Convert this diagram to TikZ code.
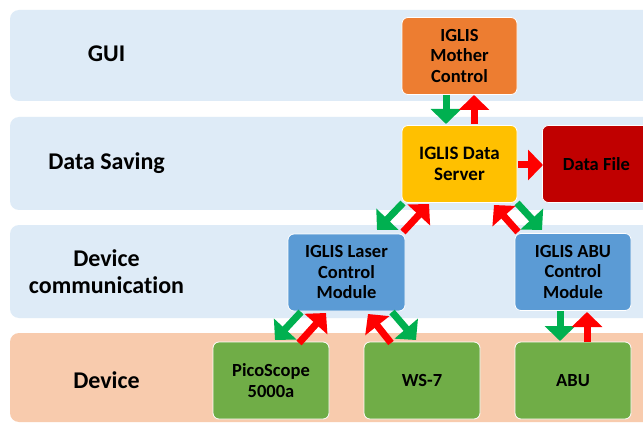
\documentclass[tikz,border=0pt]{standalone}
\usepackage{fontspec}
\setmainfont{Carlito}[Ligatures={NoCommon}]
\usetikzlibrary{arrows.meta}
\definecolor{bandblue}{HTML}{DEEBF7}
\definecolor{bandpeach}{HTML}{F8CBAD}
\definecolor{cOrange}{HTML}{ED7D31}
\definecolor{cYellow}{HTML}{FFC000}
\definecolor{cDarkRed}{HTML}{C00000}
\definecolor{cBlue}{HTML}{5B9BD5}
\definecolor{cGreen}{HTML}{70AD47}
\definecolor{aGreen}{HTML}{00B050}
\definecolor{aRed}{HTML}{FF0000}
\begin{document}
\begin{tikzpicture}[x=1pt,y=-1pt,
  band/.style={rounded corners=9pt},
  lanelabel/.style={font=\bfseries\fontsize{24}{27}\selectfont, align=center, text=black, inner sep=0pt},
  box/.style={draw=white, line width=0.8pt, rounded corners=6pt, minimum width=115pt, minimum height=77pt, align=center, font=\bfseries\fontsize{18.5}{20.5}\selectfont, inner sep=2pt},
  garrow/.style={draw=aGreen, line width=7pt, -{Triangle[width=30pt,length=15pt]}},
  rarrow/.style={draw=aRed, line width=7pt, -{Triangle[width=30pt,length=15pt]}}
]
\useasboundingbox (0,0) rectangle (643,425);
\clip (0,0) rectangle (643,425);
\fill[white] (0,0) rectangle (643,425);
% bands
\fill[band, bandblue] (10,10) rectangle (680,101);
\fill[band, bandblue] (10,117) rectangle (680,210);
\fill[band, bandblue] (10,225) rectangle (680,318);
\fill[band, bandpeach] (10,333) rectangle (680,422);
% lane labels
\node[lanelabel] (lgui) at (106.5,54) {GUI};
\node[lanelabel] (lds) at (106.5,163) {Data Saving};
\node[lanelabel] (ldc) at (106.5,271.5) {Device\\communication};
\node[lanelabel] (ldev) at (106.5,380) {Device};
% boxes
\node[box, fill=cOrange] (mother) at (459.5,56) {IGLIS\\Mother\\Control};
\node[box, fill=cYellow, font=\bfseries\fontsize{19}{21}\selectfont] (server) at (459.5,164) {IGLIS Data\\Server};
\node[box, fill=cDarkRed, minimum width=108pt, anchor=west] (file) at (542,164) {Data File};
\node[box, fill=cBlue, minimum width=117pt] (laser) at (346.5,272.5) {IGLIS Laser\\Control\\Module};
\node[box, fill=cBlue, minimum width=116pt] (abuc) at (573,272) {IGLIS ABU\\Control\\Module};
\node[box, fill=cGreen, minimum width=116pt] (pico) at (271,380.5) {PicoScope\\5000a};
\node[box, fill=cGreen, minimum width=116pt] (ws) at (422,380.5) {WS-7};
\node[box, fill=cGreen, minimum width=116pt] (abu) at (573,380.5) {ABU};
% arrows
\coordinate (m1) at (446,95); \coordinate (m1t) at (446,124);
\coordinate (m2) at (474,124); \coordinate (m2t) at (474,95);
\draw[garrow] (m1) -- (m1t);
\draw[rarrow] (m2) -- (m2t);
\coordinate (f1) at (518,165); \coordinate (f1t) at (543,165);
\draw[rarrow] (f1) -- (f1t);
% server - laser
\coordinate (sl1) at (403,203); \coordinate (sl1t) at (377,230);
\coordinate (sl2) at (403,232); \coordinate (sl2t) at (429,204);
\draw[garrow] (sl1) -- (sl1t);
\draw[rarrow] (sl2) -- (sl2t);
% server - abu control
\coordinate (sa1) at (517,203); \coordinate (sa1t) at (542,230);
\coordinate (sa2) at (518,232); \coordinate (sa2t) at (494,205);
\draw[garrow] (sa1) -- (sa1t);
\draw[rarrow] (sa2) -- (sa2t);
% abu control - abu
\coordinate (aa1) at (560,311); \coordinate (aa1t) at (560,341);
\coordinate (aa2) at (587,342); \coordinate (aa2t) at (587,312);
\draw[garrow] (aa1) -- (aa1t);
\draw[rarrow] (aa2) -- (aa2t);
% laser - pico
\coordinate (lp1) at (301,312); \coordinate (lp1t) at (275,340);
\coordinate (lp2) at (299,343); \coordinate (lp2t) at (326,313);
\draw[garrow] (lp1) -- (lp1t);
\draw[rarrow] (lp2) -- (lp2t);
% laser - ws
\coordinate (lw1) at (392,312); \coordinate (lw1t) at (416,340);
\coordinate (lw2) at (391,343); \coordinate (lw2t) at (368,314);
\draw[garrow] (lw1) -- (lw1t);
\draw[rarrow] (lw2) -- (lw2t);
\end{tikzpicture}
\end{document}
